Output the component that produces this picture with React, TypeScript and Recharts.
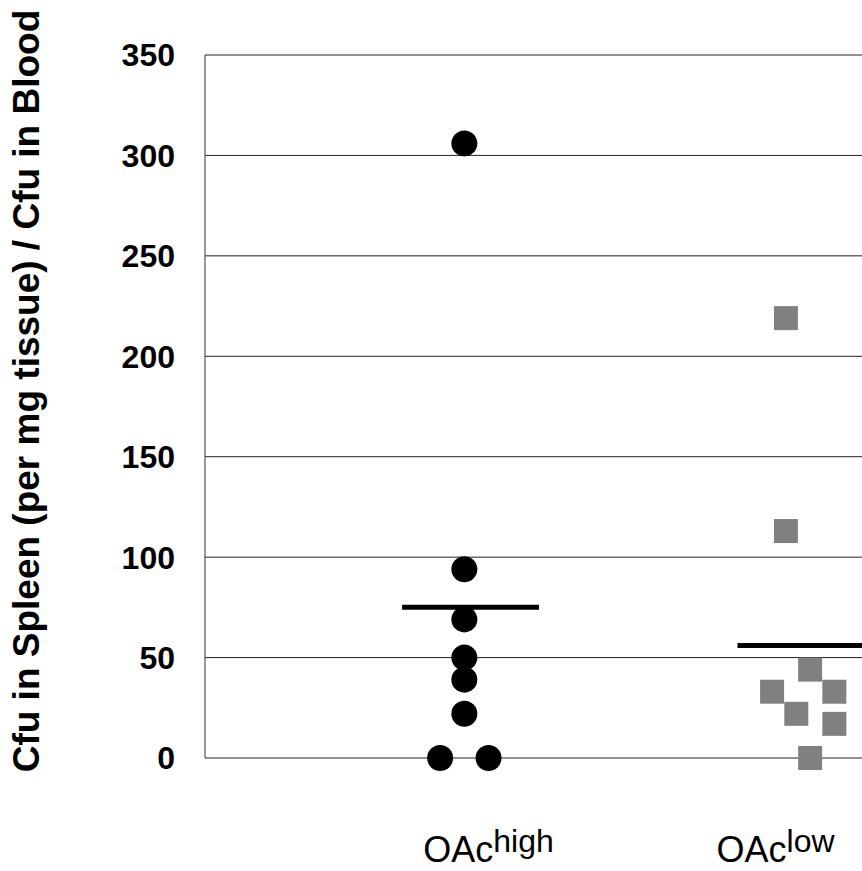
import { ScatterChart, Scatter, XAxis, YAxis, CartesianGrid, ReferenceLine } from "recharts";

// OAc-high group (circles): x = jittered category position, y = ratio
const highX = [1, 1, 1, 1, 1, 1, 0.93, 1.07];
const highY = [306, 94, 69, 50, 39, 22, 0, 0];
const highMean = 75;

// OAc-low group (squares)
const lowX = [1.93, 1.93, 2.0, 1.89, 2.07, 1.96, 2.07, 2.0];
const lowY = [219, 113, 44, 33, 33, 22, 17, 0];
const lowMean = 56;

const yTicks = [0, 50, 100, 150, 200, 250, 300, 350];
const catTicks = [1.07, 1.9];
const catMain = ["OAc", "OAc"];
const catSup = ["high", "low"];

const highData = highX.map((x, i) => ({ x, y: highY[i] }));
const lowData = lowX.map((x, i) => ({ x, y: lowY[i] }));

const font = "'Liberation Sans', Arial, sans-serif";

const Dot = (p: any) => <circle cx={p.cx} cy={p.cy} r={13} fill="#000" />;
const Sq = (p: any) => <rect x={p.cx - 12} y={p.cy - 12} width={24} height={24} fill="#808080" />;

const CatTick = (p: any) => {
  const i = catTicks.indexOf(p.payload.value);
  return (
    <text
      x={p.x}
      y={p.y + 104}
      textAnchor="middle"
      fontFamily={font}
      fontSize={36}
      fill="#000"
    >
      {catMain[i]}
      <tspan fontSize={32} dy={-10}>{catSup[i]}</tspan>
    </text>
  );
};

export default function App() {
  return (
    <div style={{ position: "absolute", left: 0, top: 0, background: "#fff" }}>
      <ScatterChart width={862} height={871} margin={{ top: 55, right: 0, bottom: 0, left: 0 }}>
        <CartesianGrid vertical={false} stroke="#222" strokeWidth={1} />
        <XAxis
          type="number"
          dataKey="x"
          domain={[0.25, 2.15]}
          ticks={catTicks}
          height={113}
          axisLine={false}
          tickLine={false}
          tickSize={0}
          tickMargin={0}
          tick={<CatTick />}
          allowDataOverflow
        />
        <YAxis
          type="number"
          dataKey="y"
          domain={[0, 350]}
          ticks={yTicks}
          width={205}
          axisLine={{ stroke: "#333" }}
          tickLine={false}
          tickSize={6}
          tickMargin={24}
          tick={{ fontSize: 32, fontWeight: "bold", fill: "#000", fontFamily: font }}
          label={{
            content: () => (
              <text
                transform="translate(39,391) rotate(-90)"
                textAnchor="middle"
                fontFamily={font}
                fontWeight="bold"
                fontSize={37}
                fill="#000"
              >
                Cfu in Spleen (per mg tissue) / Cfu in Blood
              </text>
            ),
          }}
        />
        <ReferenceLine
          segment={[{ x: 0.82, y: highMean }, { x: 1.216, y: highMean }]}
          stroke="#000"
          strokeWidth={5}
        />
        <ReferenceLine
          segment={[{ x: 1.79, y: lowMean }, { x: 2.15, y: lowMean }]}
          stroke="#000"
          strokeWidth={5}
        />
        <Scatter data={highData} shape={Dot} isAnimationActive={false} />
        <Scatter data={lowData} shape={Sq} isAnimationActive={false} />
      </ScatterChart>
    </div>
  );
}
